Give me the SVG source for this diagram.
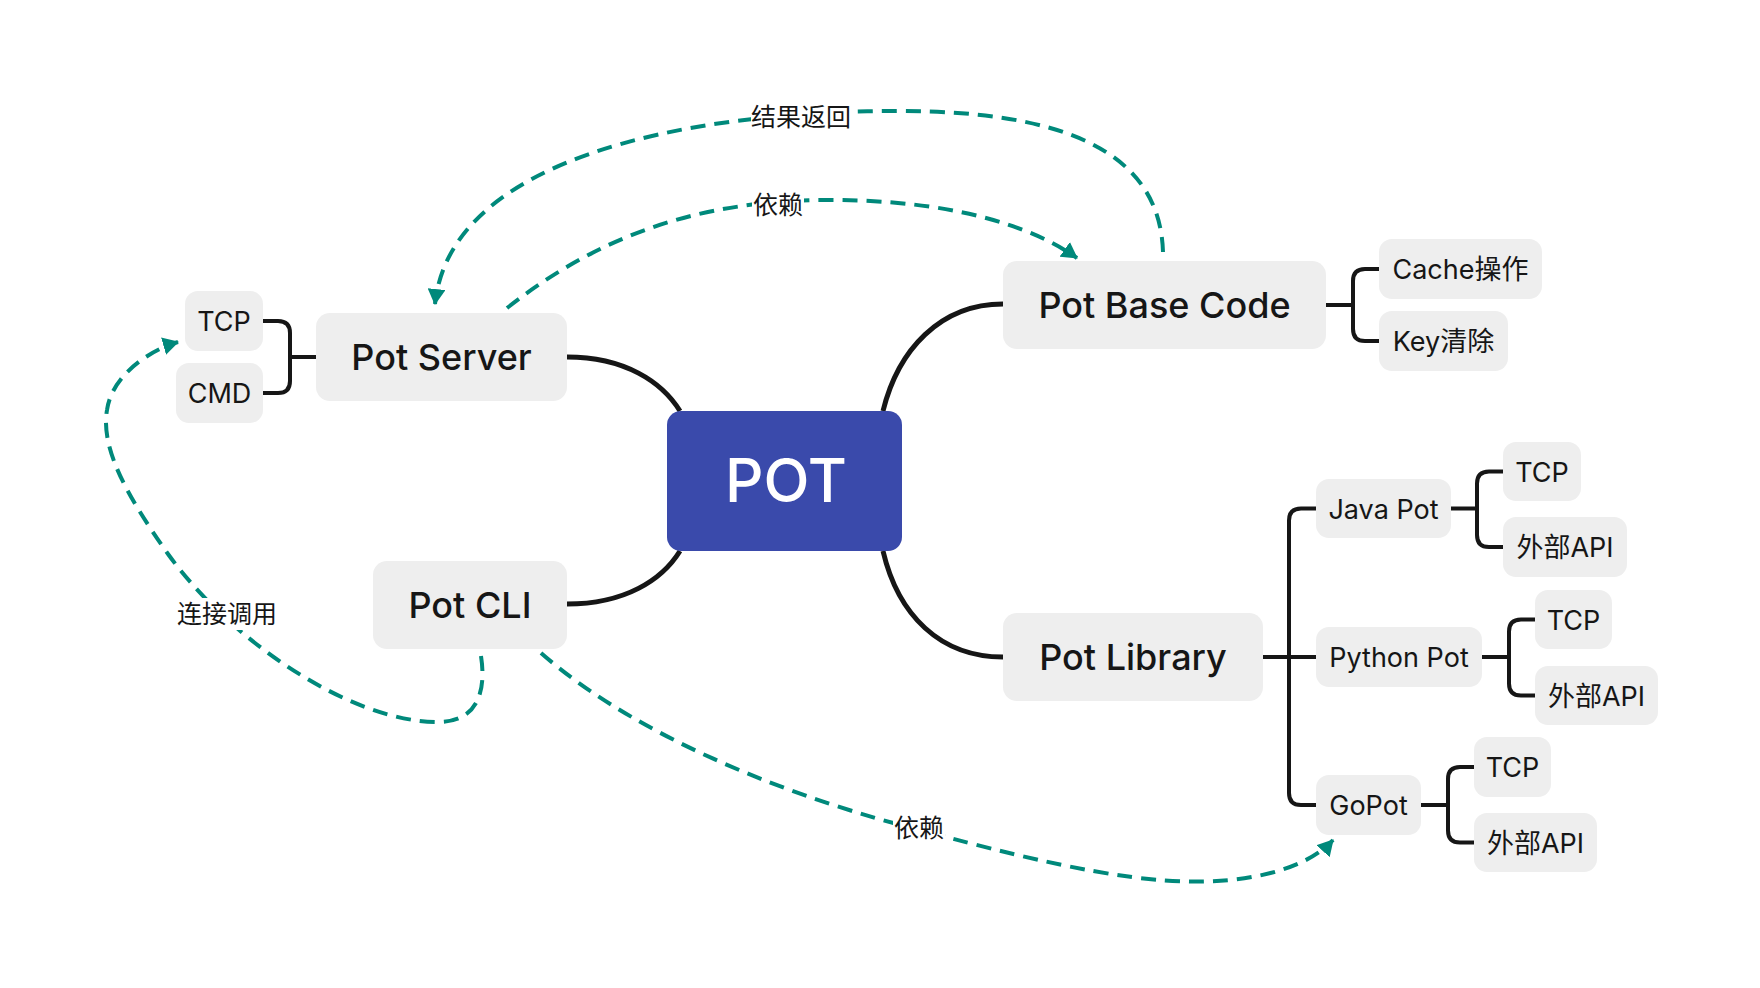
<svg xmlns="http://www.w3.org/2000/svg" width="1760" height="988" viewBox="0 0 1760 988">
<defs>
<style>
.node{fill:#eeeeee}
.main{font-family:Inter,"Noto Sans CJK SC","Noto Sans",sans-serif;font-size:36px;font-weight:500;fill:#161616;text-anchor:middle}
.sub{font-family:Inter,"Noto Sans CJK SC","Noto Sans",sans-serif;font-size:27px;font-weight:400;fill:#161616;text-anchor:middle}
.lbl{font-family:"Noto Sans CJK SC","Noto Sans",sans-serif;font-size:25px;fill:#161616;text-anchor:middle}
.branch{fill:none;stroke:#161616;stroke-width:5;stroke-linecap:butt}
.brk{fill:none;stroke:#161616;stroke-width:4}
.rel{fill:none;stroke:#00897b;stroke-width:4;stroke-dasharray:15 9}
</style>
<marker id="ah" viewBox="0 0 16 18" refX="15" refY="9" markerWidth="16" markerHeight="18" markerUnits="userSpaceOnUse" orient="auto">
<path d="M0 0 L16 9 L0 18 z" fill="#00897b"/>
</marker>
</defs>
<rect width="1760" height="988" fill="#ffffff"/>

<g id="connectors">
<path class="branch" d="M567 357 C625 357 662 382 680 411"/>
<path class="branch" d="M567 604 C625 604 662 580 680 551"/>
<path class="branch" d="M1003 304 C940 304 898 350 883 411"/>
<path class="branch" d="M1003 657 C940 657 898 615 883 551"/>
<path class="brk" d="M290 357 H316 M263 321 H278 Q290 321 290 333 V381 Q290 393 278 393 H263"/>
<path class="brk" d="M1326 305 H1353 M1379 269 H1365 Q1353 269 1353 281 V329 Q1353 341 1365 341 H1379"/>
<path class="brk" d="M1263 657 H1316 M1316 508.5 H1301 Q1289 508.5 1289 520.5 V793 Q1289 805 1301 805 H1316"/>
<path class="brk" d="M1451 508.5 H1477 M1503 471.5 H1489 Q1477 471.5 1477 483.5 V535 Q1477 547 1489 547 H1503"/>
<path class="brk" d="M1482 657 H1509 M1535 619.5 H1521 Q1509 619.5 1509 631.5 V683.5 Q1509 695.5 1521 695.5 H1535"/>
<path class="brk" d="M1421 805 H1448 M1474 767 H1460 Q1448 767 1448 779 V830.5 Q1448 842.5 1460 842.5 H1474"/>
<path class="rel" d="M1163 252 C1160 150 1060 111 900 111 C680 111 450 160 435 304" marker-end="url(#ah)"/>
<path class="rel" d="M507 308 C600 235 700 200 830 200 C950 200 1030 225 1077 258" marker-end="url(#ah)"/>
<path class="rel" d="M481 656 C487 695 475 722 438 722 C350 722 230 640 168 554 C130 500 100 450 107 410 C112 375 150 350 178 342" marker-end="url(#ah)"/>
<path class="rel" d="M541 653 C640 740 800 800 920 830 C1050 865 1150 888 1230 880 C1280 875 1315 860 1333 840" marker-end="url(#ah)"/>
<rect x="751" y="101" width="102" height="32" fill="#ffffff"/>
<text class="lbl" x="801" y="126">结果返回</text>
<rect x="752" y="189" width="52" height="32" fill="#ffffff"/>
<text class="lbl" x="778" y="214">依赖</text>
<rect x="177" y="598" width="101" height="32" fill="#ffffff"/>
<text class="lbl" x="227" y="623">连接调用</text>
<rect x="893" y="812" width="52" height="32" fill="#ffffff"/>
<text class="lbl" x="919" y="837">依赖</text>
</g>

<g id="pot">
<rect x="667" y="411" width="235" height="140" rx="14" fill="#3a4aab"/>
<text x="786" y="502" style="font-family:Inter,'Noto Sans',sans-serif;font-size:60px;font-weight:500;fill:#ffffff;text-anchor:middle">POT</text>
</g>
<g id="pot-server">
<rect class="node" x="316" y="313" width="251" height="88" rx="14"/>
<text class="main" x="441.5" y="369.5">Pot Server</text>
</g>
<g id="pot-cli">
<rect class="node" x="373" y="561" width="194" height="88" rx="14"/>
<text class="main" x="470" y="617.5">Pot CLI</text>
</g>
<g id="pot-base-code">
<rect class="node" x="1003" y="261" width="323" height="88" rx="14"/>
<text class="main" x="1164.5" y="317.5">Pot Base Code</text>
</g>
<g id="pot-library">
<rect class="node" x="1003" y="613" width="260" height="88" rx="14"/>
<text class="main" x="1133" y="669.5">Pot Library</text>
</g>
<g id="server-tcp">
<rect class="node" x="185" y="291" width="78" height="60" rx="13"/>
<text class="sub" x="224" y="331">TCP</text>
</g>
<g id="server-cmd">
<rect class="node" x="176" y="363" width="87" height="60" rx="13"/>
<text class="sub" x="219.5" y="403">CMD</text>
</g>
<g id="cache">
<rect class="node" x="1379" y="239" width="163" height="60" rx="13"/>
<text class="sub" x="1460.5" y="279">Cache操作</text>
</g>
<g id="key">
<rect class="node" x="1379" y="311" width="129" height="60" rx="13"/>
<text class="sub" x="1443.5" y="351">Key清除</text>
</g>
<g id="java-pot">
<rect class="node" x="1316" y="479" width="135" height="59" rx="13"/>
<text class="sub" x="1383.5" y="518.5">Java Pot</text>
</g>
<g id="java-tcp">
<rect class="node" x="1503" y="442" width="78" height="59" rx="13"/>
<text class="sub" x="1542" y="481.5">TCP</text>
</g>
<g id="java-api">
<rect class="node" x="1503" y="517" width="124" height="60" rx="13"/>
<text class="sub" x="1565" y="557">外部API</text>
</g>
<g id="python-pot">
<rect class="node" x="1316" y="627" width="166" height="60" rx="13"/>
<text class="sub" x="1399" y="667">Python Pot</text>
</g>
<g id="python-tcp">
<rect class="node" x="1535" y="590" width="77" height="59" rx="13"/>
<text class="sub" x="1573.5" y="629.5">TCP</text>
</g>
<g id="python-api">
<rect class="node" x="1535" y="666" width="123" height="59" rx="13"/>
<text class="sub" x="1596.5" y="705.5">外部API</text>
</g>
<g id="gopot">
<rect class="node" x="1316" y="775" width="105" height="60" rx="13"/>
<text class="sub" x="1368.5" y="815">GoPot</text>
</g>
<g id="go-tcp">
<rect class="node" x="1474" y="737" width="77" height="60" rx="13"/>
<text class="sub" x="1512.5" y="777">TCP</text>
</g>
<g id="go-api">
<rect class="node" x="1474" y="813" width="123" height="59" rx="13"/>
<text class="sub" x="1535.5" y="852.5">外部API</text>
</g>
</svg>
